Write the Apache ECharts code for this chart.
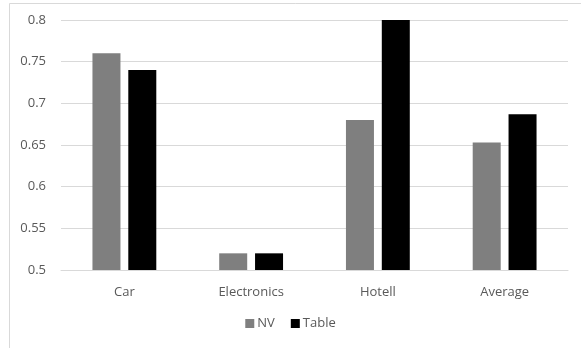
<!DOCTYPE html>
<html>
<head>
<meta charset="utf-8">
<script src="https://cdn.jsdelivr.net/npm/echarts@6/dist/echarts.min.js"></script>
<style>
  html, body { margin: 0; padding: 0; background: #fff; }
  #chart { width: 581px; height: 348px; }
</style>
</head>
<body>
<div id="chart"></div>
<script>
// Categories and per-series scores
const categories = ['Car', 'Electronics', 'Hotell', 'Average'];
const nvValues = [0.76, 0.52, 0.68, 0.653];
const tableValues = [0.74, 0.52, 0.80, 0.687];
const yTicks = { min: 0.5, max: 0.8, interval: 0.05 };

const chart = echarts.init(document.getElementById('chart'), null, { renderer: 'canvas' });

const textColor = '#595959';
const fontFamily = '"Open Sans", "Noto Sans", sans-serif';

chart.setOption({
  animation: false,
  backgroundColor: '#fff',
  graphic: [{
    type: 'polyline',
    shape: { points: [[9.5, 348], [9.5, 3.5], [581, 3.5]] },
    style: { stroke: '#d9d9d9', lineWidth: 1, fill: null },
    silent: true
  }],
  grid: { left: 61, right: 13, top: 20, bottom: 78, containLabel: false },
  legend: {
    bottom: 13,
    left: 'center',
    itemWidth: 9,
    itemHeight: 9,
    itemGap: 16,
    icon: 'rect',
    textStyle: { color: textColor, fontSize: 13, fontFamily: fontFamily, padding: [0, 0, 0, -2] },
    data: ['NV', 'Table']
  },
  xAxis: {
    type: 'category',
    data: categories,
    axisLine: { lineStyle: { color: '#d9d9d9', width: 1 } },
    axisTick: { show: false },
    axisLabel: { color: textColor, fontSize: 13, fontFamily: fontFamily, margin: 16 }
  },
  yAxis: {
    type: 'value',
    min: yTicks.min,
    max: yTicks.max,
    interval: yTicks.interval,
    axisLine: { show: false },
    axisTick: { show: false },
    splitLine: { lineStyle: { color: '#d9d9d9', width: 1 } },
    axisLabel: {
      color: textColor, fontSize: 13, fontFamily: fontFamily, margin: 15,
      formatter: v => String(parseFloat(v.toFixed(2)))
    }
  },
  series: [
    {
      name: 'NV', type: 'bar', data: nvValues,
      barWidth: 28, barGap: '28%',
      itemStyle: { color: '#7f7f7f' }
    },
    {
      name: 'Table', type: 'bar', data: tableValues,
      barWidth: 28,
      itemStyle: { color: '#000000' }
    }
  ]
});
</script>
</body>
</html>
